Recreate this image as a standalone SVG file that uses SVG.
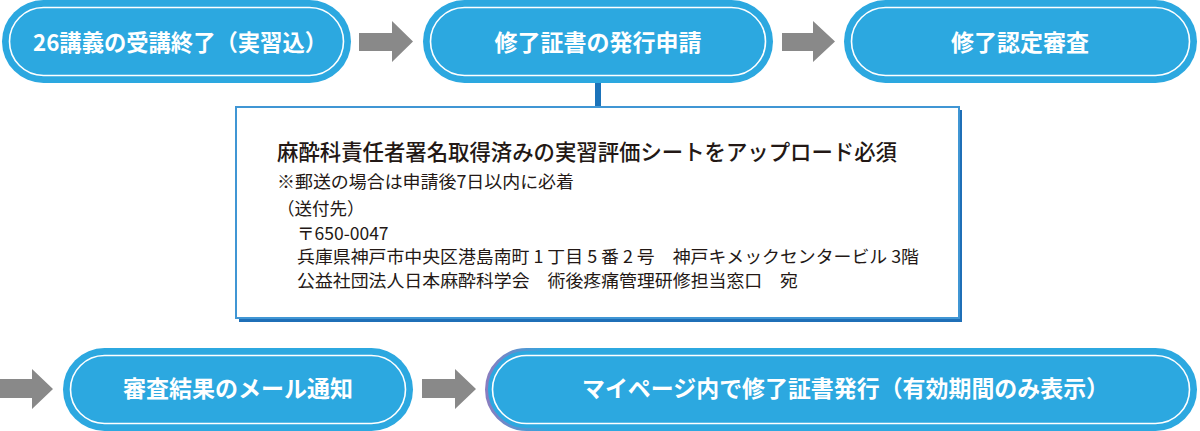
<svg xmlns="http://www.w3.org/2000/svg" width="1200" height="431" viewBox="0 0 1200 431">
  <defs>
    <style>
      .pill { fill: #2ca8e0; }
      .inner { fill: none; stroke: #ffffff; stroke-width: 1.6; }
      .lbl { font-family: "Noto Sans CJK JP", "Noto Sans", sans-serif; font-weight: 700; font-size: 23px; fill: #ffffff; }
      .arrow { fill: #898989; }
      .note { font-family: "Noto Sans CJK JP", "Noto Sans", sans-serif; font-size: 17.5px; fill: #231815; }
      .note1 { font-family: "Noto Sans CJK JP", "Noto Sans", sans-serif; font-size: 22px; font-weight: 500; fill: #231815; }
    </style>
    <linearGradient id="edge5" x1="0" y1="0" x2="1" y2="0">
      <stop offset="0" stop-color="#8a7dbf"/>
      <stop offset="0.09" stop-color="#2ca8e0"/>
      <stop offset="1" stop-color="#2ca8e0"/>
    </linearGradient>
  </defs>

  <g id="connectors">
    <polygon class="arrow" points="359,33 392,33 392,21 413,41.5 392,62 392,51 359,51"/>
    <polygon class="arrow" points="782,33 813,33 813,21 835,41.5 813,62 813,51 782,51"/>
    <polygon class="arrow" points="0,379 32,379 32,369 53,389 32,409 32,398 0,398"/>
    <polygon class="arrow" points="422,379 455,379 455,369 476,389 455,409 455,398 422,398"/>
    <rect x="595" y="82" width="6" height="26" fill="#1b73ba"/>
  </g>

  <g id="node1">
    <rect class="pill" x="2" y="0" width="349" height="83" rx="41.5"/>
    <rect class="inner" x="9.5" y="7.5" width="334" height="68" rx="34"/>
    <text class="lbl" x="33" y="51" textLength="294" lengthAdjust="spacingAndGlyphs">26講義の受講終了（実習込）</text>
  </g>

  <g id="node2">
    <rect class="pill" x="423" y="0" width="350" height="83" rx="41.5"/>
    <rect class="inner" x="430.5" y="7.5" width="335" height="68" rx="34"/>
    <text class="lbl" x="598" y="51" text-anchor="middle">修了証書の発行申請</text>
  </g>

  <g id="node3">
    <rect class="pill" x="844" y="0" width="353" height="83" rx="41.5"/>
    <rect class="inner" x="851.5" y="7.5" width="338" height="68" rx="34"/>
    <text class="lbl" x="1020" y="51" text-anchor="middle">修了認定審査</text>
  </g>

  <g id="note">
    <rect x="239" y="110" width="723" height="212" fill="#1f6fb7"/>
    <rect x="236" y="107" width="723" height="211" fill="#ffffff" stroke="#4096d4" stroke-width="2"/>
    <text class="note1" x="277" y="160" textLength="620" lengthAdjust="spacingAndGlyphs">麻酔科責任者署名取得済みの実習評価シートをアップロード必須</text>
    <text class="note" x="277" y="188" textLength="297" lengthAdjust="spacingAndGlyphs">※郵送の場合は申請後7日以内に必着</text>
    <text class="note" x="277" y="215">（送付先）</text>
    <text class="note" x="297" y="240">〒650-0047</text>
    <text class="note" x="297" y="263" textLength="622" lengthAdjust="spacingAndGlyphs">兵庫県神戸市中央区港島南町 1 丁目 5 番 2 号　神戸キメックセンタービル 3階</text>
    <text class="note" x="297" y="287" textLength="501" lengthAdjust="spacingAndGlyphs">公益社団法人日本麻酔科学会　術後疼痛管理研修担当窓口　宛</text>
  </g>

  <g id="node4">
    <rect class="pill" x="63" y="348" width="350" height="83" rx="41.5"/>
    <rect class="inner" x="70.5" y="355.5" width="335" height="68" rx="34"/>
    <text class="lbl" x="238" y="397" text-anchor="middle">審査結果のメール通知</text>
  </g>

  <g id="node5">
    <rect class="pill" x="486.5" y="349.5" width="709" height="80" rx="40" stroke="url(#edge5)" stroke-width="3"/>
    <rect class="inner" x="492.5" y="355.5" width="697" height="68" rx="34"/>
    <text class="lbl" x="582" y="397" textLength="527" lengthAdjust="spacingAndGlyphs">マイページ内で修了証書発行（有効期間のみ表示）</text>
  </g>
</svg>
